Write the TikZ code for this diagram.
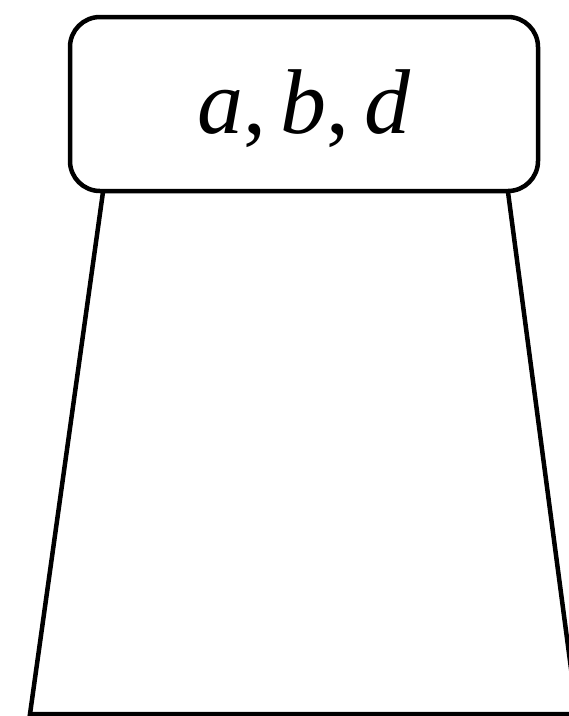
\documentclass[tikz,border=0pt]{standalone}
\usepackage{fontspec}
\setmainfont{Liberation Serif}
\begin{document}
\begin{tikzpicture}[x=1pt,y=1pt,
  bag/.style={draw=black,line width=4.5pt,rounded corners=30pt,
    minimum width=468pt,minimum height=174pt,inner sep=0pt,
    font=\fontsize{92}{100}\selectfont,text height=58pt,text depth=0pt},
  edgeline/.style={draw=black,line width=4.5pt}]
\useasboundingbox (0,0) rectangle (569,-716);
\clip (0,0) rectangle (569,-716);
\node[bag] (box) at (304,-104) {\textit{a},\kern0.16em\textit{b},\kern0.16em\textit{d}};
\coordinate (tl) at (103,-192);
\coordinate (tr) at (508,-192);
\coordinate (bl) at (30,-714);
\coordinate (br) at (590,-714);
\coordinate (rb) at (577,-714);
\draw[edgeline] (tl) -- (bl) -- (br);
\draw[edgeline] (tr) -- (rb);
\end{tikzpicture}
\end{document}
